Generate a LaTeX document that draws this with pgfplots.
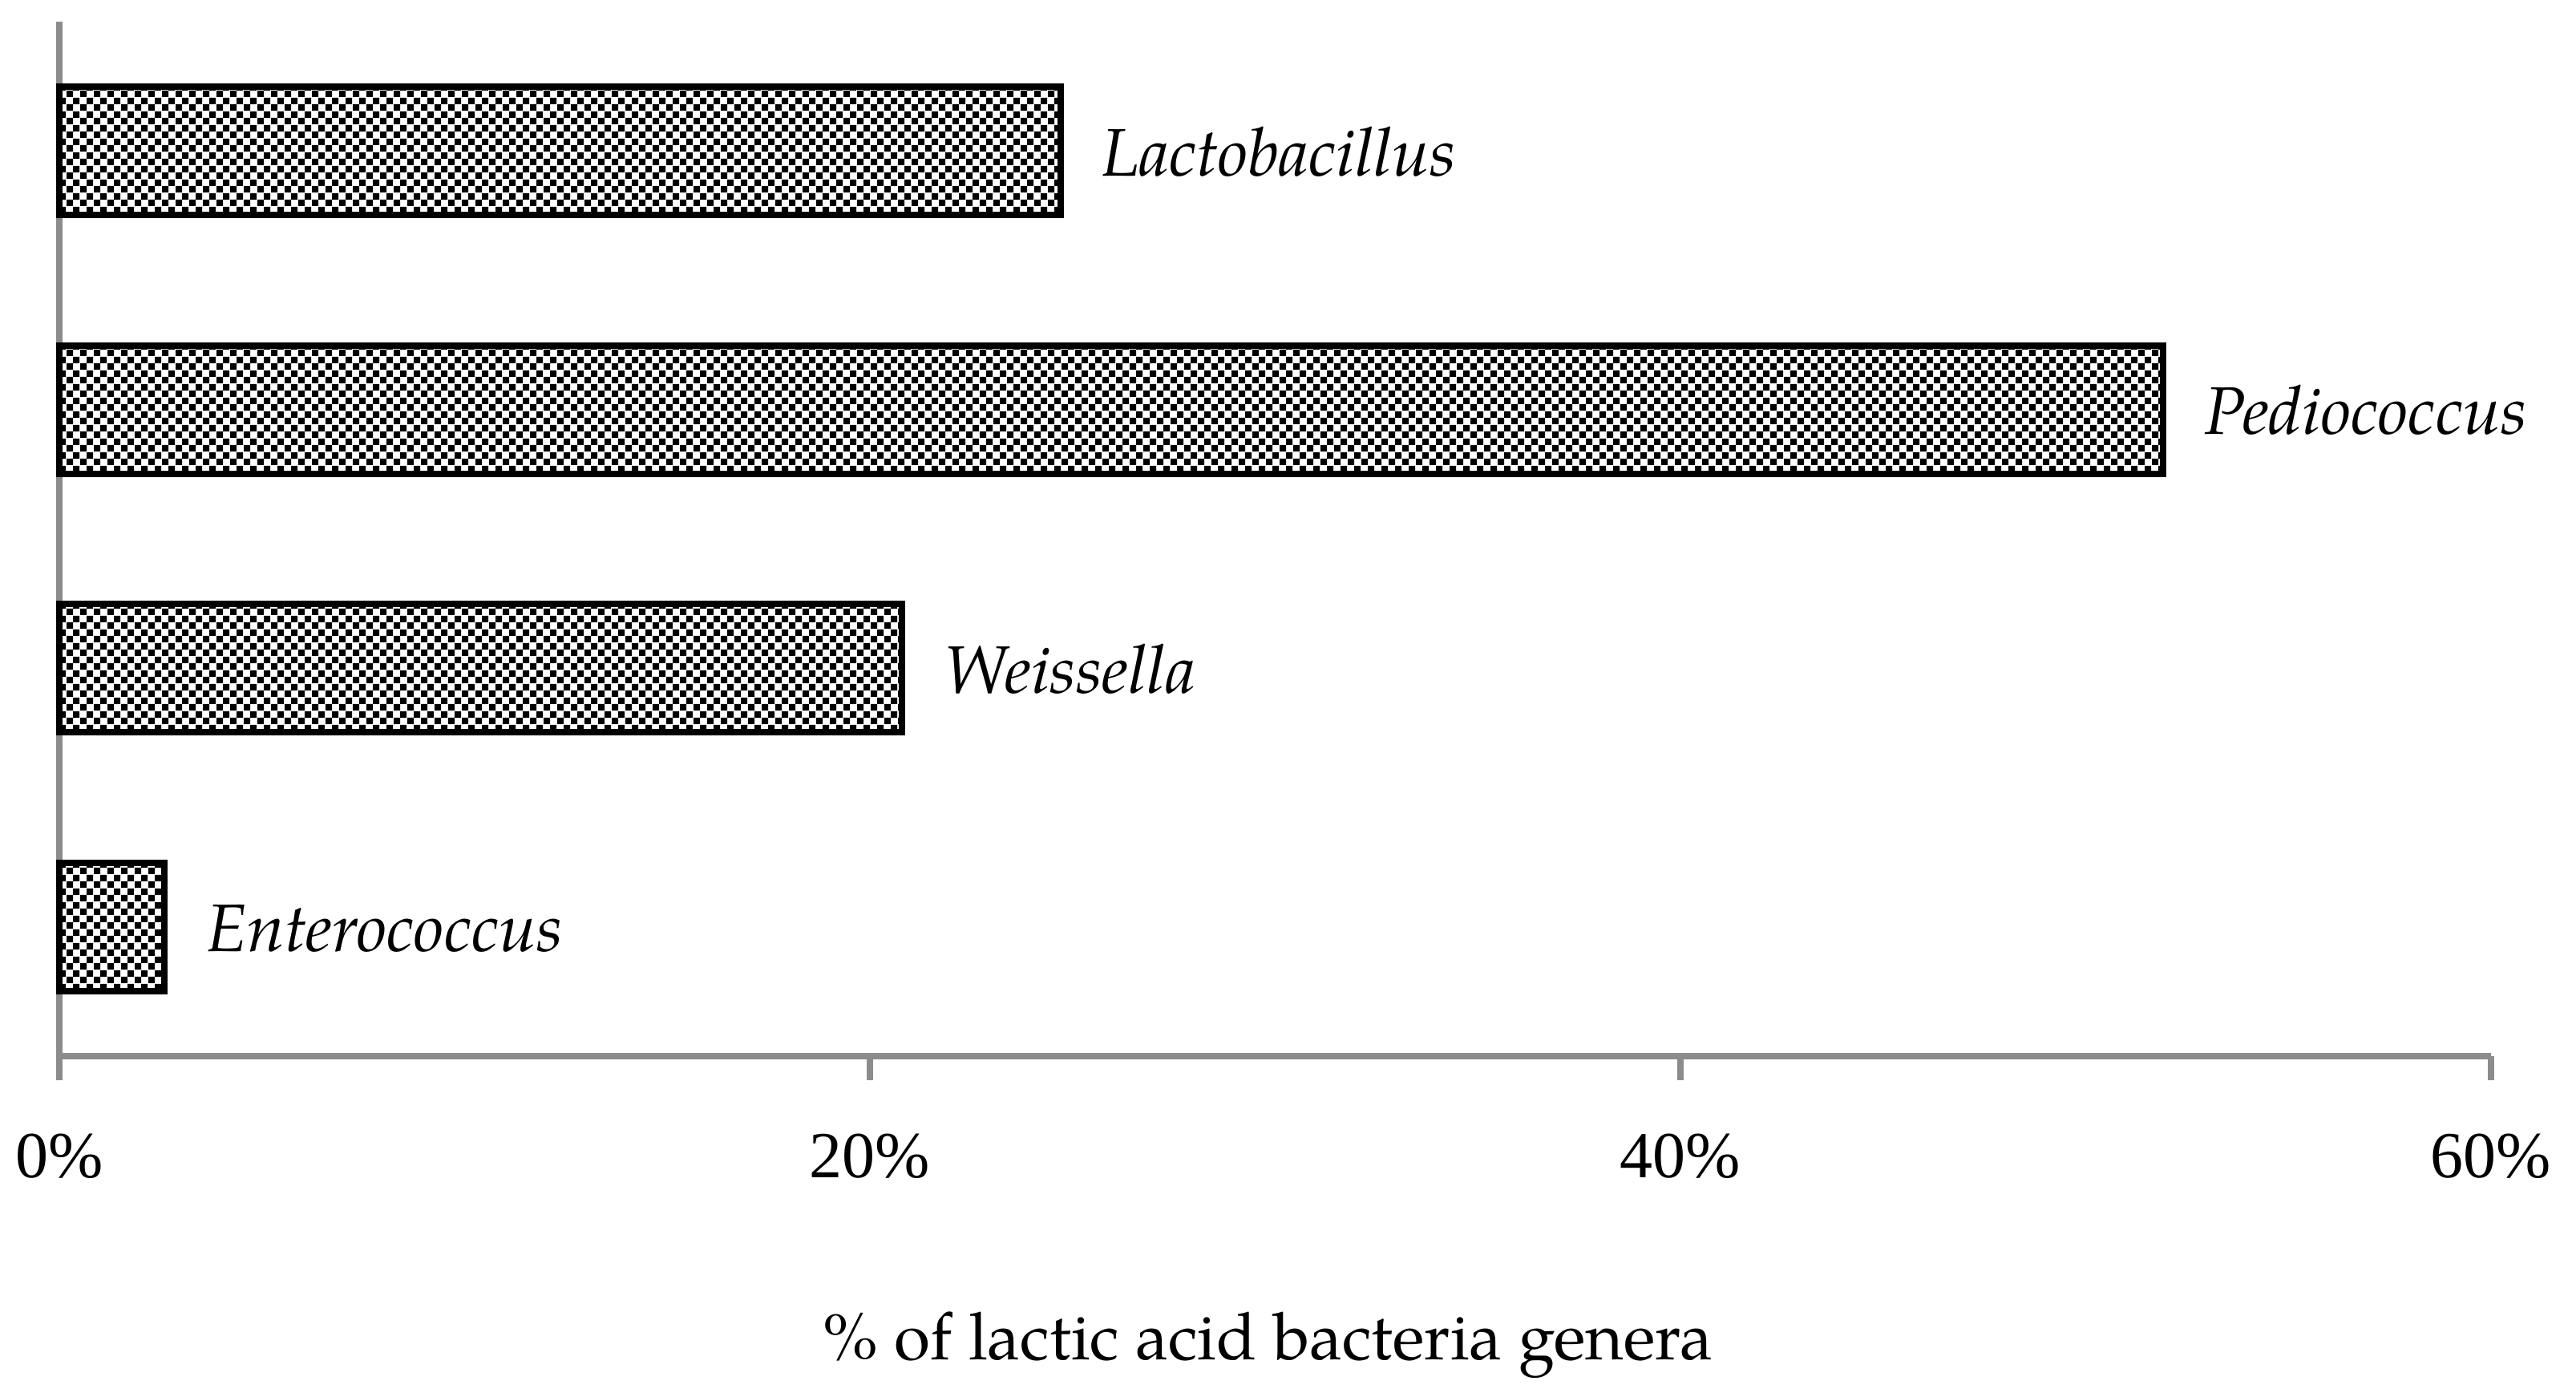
\documentclass[border=0pt]{standalone}
\usepackage{pgfplots}
\pgfplotsset{compat=1.18}
\usepackage{fontspec}
\setmainfont{TeX Gyre Pagella}
\newfontfamily\tickfont{Liberation Serif}
\usetikzlibrary{patterns}
\definecolor{axgray}{HTML}{8C8C8C}
\pgfdeclarepatternformonly{finecheck}{\pgfqpoint{0pt}{0pt}}{\pgfqpoint{1.66pt}{1.66pt}}{\pgfqpoint{1.66pt}{1.66pt}}{%
  \pgfpathrectangle{\pgfqpoint{0pt}{0pt}}{\pgfqpoint{0.83pt}{0.83pt}}%
  \pgfpathrectangle{\pgfqpoint{0.83pt}{0.83pt}}{\pgfqpoint{0.83pt}{0.83pt}}%
  \pgfusepath{fill}}
\pgfplotstableread{
pos value label
3 24.7 Lactobacillus
2 51.9 Pediococcus
1 20.8 Weissella
0 2.6 Enterococcus
}\genera
\begin{document}
\begin{tikzpicture}
\useasboundingbox (0,0) rectangle (321.3pt,174.1pt);
\begin{axis}[
  at={(7.4pt,42.4pt)}, anchor=south west,
  scale only axis,
  width=303.3pt, height=129pt,
  xmin=0, xmax=60, ymin=-0.5, ymax=3.5,
  axis x line=bottom, axis y line=left,
  axis line style={-, axgray, line width=0.75pt},
  xtick={0,20,40,60}, ytick=\empty,
  tick align=outside,
  major tick length=3pt,
  tick style={axgray, line width=0.75pt},
  /pgf/number format/assume math mode=true,
  xticklabel={\pgfmathprintnumber{\tick}\%},
  xticklabel style={font=\tickfont\fontsize{8.2}{10}\selectfont, anchor=base, yshift=-12.1pt},
  xlabel={\% of lactic acid bacteria genera},
  xlabel style={font=\fontsize{8.2}{10}\selectfont, at={(axis description cs:0.497,0)}, anchor=base, yshift=-37.8pt},
  clip=false,
]
\addplot[xbar, bar width=16.0pt, draw=black, line width=0.8pt, fill=white,
  postaction={pattern=finecheck, pattern color=black},
  point meta=explicit symbolic,
  nodes near coords,
  nodes near coords style={font=\itshape\fontsize{8.4}{10}\selectfont, anchor=base west, inner sep=0pt, xshift=4.8pt, yshift=-3.1pt, black},
] table[x=value, y=pos, meta=label] {\genera};
\end{axis}
\end{tikzpicture}
\end{document}
